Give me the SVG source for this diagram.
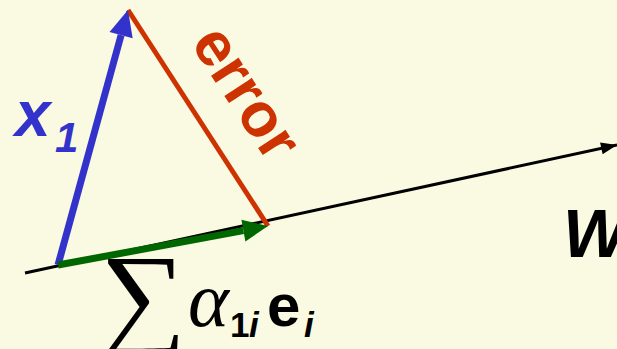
<svg xmlns="http://www.w3.org/2000/svg" width="617" height="349" viewBox="0 0 617 349">
<style>
.sans{font-family:"Liberation Sans",Arial,sans-serif;font-weight:bold}
.it{font-style:italic}
.serif{font-family:"Liberation Serif","Times New Roman",serif}
</style>
<defs>
<marker id="hk" markerUnits="userSpaceOnUse" markerWidth="20" markerHeight="14" refX="16" refY="6" orient="auto" overflow="visible"><path d="M0,0 L16,6 L0,12 z" fill="#000"/></marker>
<marker id="hb" markerUnits="userSpaceOnUse" markerWidth="30" markerHeight="30" refX="0" refY="0" orient="auto" overflow="visible"><path d="M0,-12 L26,0 L0,12 z" fill="#3333CC"/></marker>
<marker id="hg" markerUnits="userSpaceOnUse" markerWidth="30" markerHeight="30" refX="0" refY="0" orient="auto" overflow="visible"><path d="M0,-11 L25,0 L0,11 z" fill="#006600"/></marker>
</defs>
<rect width="617" height="349" fill="#F9FAE1"/>
<g id="connectors">
<line id="w-axis" x1="25" y1="273" x2="617" y2="145" stroke="#000" stroke-width="3" marker-end="url(#hk)"/>
<line id="error-line" x1="128" y1="10" x2="268" y2="226" stroke="#CC3300" stroke-width="5"/>
<line id="x1-vec" x1="58" y1="265" x2="121.1" y2="35.1" stroke="#3333CC" stroke-width="7" marker-end="url(#hb)"/>
<line id="proj-vec" x1="58" y1="265" x2="243.4" y2="230.6" stroke="#006600" stroke-width="7" marker-end="url(#hg)"/>
</g>
<g id="label-x1"><text class="sans it" x="15" y="136" font-size="64" fill="#3333CC">x</text><text class="sans it" x="55" y="152" font-size="42" fill="#3333CC">1</text></g>
<g id="label-error"><text class="sans" transform="translate(190,43) rotate(57)" font-size="62" fill="#CC3300">error</text></g>
<g id="label-w"><text class="sans it" x="563" y="257" font-size="68" fill="#000">W</text></g>
<g id="label-sum">
<text class="serif" transform="translate(100,334) scale(1.1,1.04)" font-size="110" fill="#000">∑</text>
<text class="serif it" x="188" y="326" font-size="78" fill="#000">α</text>
<text class="sans" x="230" y="337" font-size="35" fill="#000">1</text>
<text class="sans it" x="249" y="337" font-size="35" fill="#000">i</text>
<text class="sans" x="267" y="326" font-size="60" fill="#000">e</text>
<text class="sans it" x="304" y="337" font-size="35" fill="#000">i</text>
</g>
</svg>
